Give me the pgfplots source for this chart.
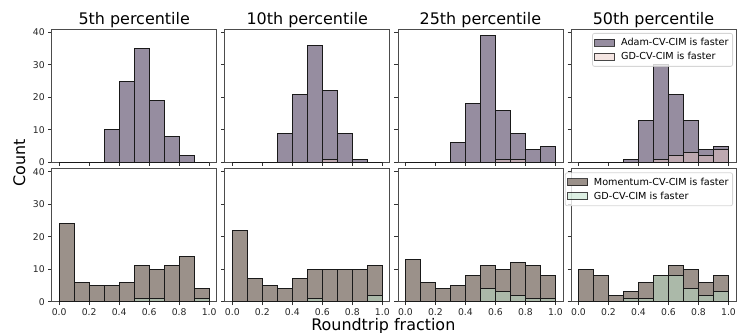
\documentclass[border=0pt]{standalone}
\usepackage{fontspec}
\setmainfont{DejaVu Sans}
\usepackage{pgfplots}
\pgfplotsset{compat=1.18}
\definecolor{adam}{RGB}{150,141,160}
\definecolor{gdpink}{RGB}{234,200,196}
\definecolor{mom}{RGB}{155,145,138}
\definecolor{gdgreen}{RGB}{188,225,201}
\newcommand{\lf}{\fontsize{9.7}{11}\selectfont}
\pgfplotsset{
 panel/.style={scale only axis, width=165bp, height=133bp, anchor=south west,
  xmin=-0.05, xmax=1.05, ymin=0, ymax=40.95,
  xtick={0,0.2,0.4,0.6,0.8,1.0}, ytick={0,10,20,30,40},
  xticklabels={0.0,0.2,0.4,0.6,0.8,1.0},
  tick pos=left, tick align=outside, major tick length=3.5bp,
  tick style={black!80, line width=0.8bp},
  axis line style={black!70, line width=0.8bp},
  ticklabel style={font=\fontsize{9.3}{11}\selectfont, text=black!85},
  /pgf/number format/assume math mode=true,
 },
 notx/.style={xticklabels={}},
 noty/.style={yticklabels={}},
 hbar/.style={ybar, bar width=0.1, bar shift=0pt, draw=black!90, line width=1bp,
   legend image code/.code={\draw[##1, sharp corners] (0bp,-3.5bp) rectangle (20bp,3.5bp);}},
 leg/.style={legend cell align=left, legend style={at={(1,1)}, anchor=north east, xshift=-3bp, yshift=-3.7bp,
   draw=black!20, line width=0.8bp, fill=white, fill opacity=0.8, draw opacity=0.8, text opacity=1,
   rounded corners=2bp, font=\lf, inner xsep=2bp, inner ysep=3bp,
   row sep=1.3bp, nodes={inner sep=2bp, font=\lf},
   /tikz/every odd column/.append style={column sep=3.6bp}}},
}
\begin{document}
\begin{tikzpicture}
% ---------- top row ----------
\begin{axis}[panel, notx, at={(51.7bp,170.7bp)}]
\addplot[hbar, fill=adam, fill opacity=1] coordinates {(0.05,0) (0.15,0) (0.25,0) (0.35,10) (0.45,25) (0.55,35) (0.65,19) (0.75,8) (0.85,2) (0.95,0)};
\addplot[hbar, fill=gdpink, fill opacity=0.47] coordinates {(0.05,0) (0.15,0) (0.25,0) (0.35,0) (0.45,0) (0.55,0) (0.65,0) (0.75,0) (0.85,0) (0.95,0)};
\end{axis}
\begin{axis}[panel, notx, noty, at={(224.8bp,170.7bp)}]
\addplot[hbar, fill=adam, fill opacity=1] coordinates {(0.05,0) (0.15,0) (0.25,0) (0.35,9) (0.45,21) (0.55,36) (0.65,22) (0.75,9) (0.85,1) (0.95,0)};
\addplot[hbar, fill=gdpink, fill opacity=0.47] coordinates {(0.05,0) (0.15,0) (0.25,0) (0.35,0) (0.45,0) (0.55,0) (0.65,1) (0.75,0) (0.85,0) (0.95,0)};
\end{axis}
\begin{axis}[panel, notx, noty, at={(397.9bp,170.7bp)}]
\addplot[hbar, fill=adam, fill opacity=1] coordinates {(0.05,0) (0.15,0) (0.25,0) (0.35,6) (0.45,18) (0.55,39) (0.65,16) (0.75,9) (0.85,4) (0.95,5)};
\addplot[hbar, fill=gdpink, fill opacity=0.47] coordinates {(0.05,0) (0.15,0) (0.25,0) (0.35,0) (0.45,0) (0.55,0) (0.65,1) (0.75,1) (0.85,0) (0.95,0)};
\end{axis}
\begin{axis}[panel, notx, noty, leg, at={(571.0bp,170.7bp)}]
\addplot[hbar, fill=adam, fill opacity=1] coordinates {(0.05,0) (0.15,0) (0.25,0) (0.35,1) (0.45,13) (0.55,30) (0.65,21) (0.75,13) (0.85,4) (0.95,5)};
\addlegendentry{\lf Adam-CV-CIM is faster}
\addplot[hbar, fill=gdpink, fill opacity=0.47] coordinates {(0.05,0) (0.15,0) (0.25,0) (0.35,0) (0.45,0) (0.55,1) (0.65,2) (0.75,3) (0.85,2) (0.95,4)};
\addlegendentry{\lf GD-CV-CIM is faster}
\end{axis}
% ---------- bottom row ----------
\begin{axis}[panel, at={(51.7bp,31.3bp)}]
\addplot[hbar, fill=mom, fill opacity=1] coordinates {(0.05,24) (0.15,6) (0.25,5) (0.35,5) (0.45,6) (0.55,11) (0.65,10) (0.75,11) (0.85,14) (0.95,4)};
\addplot[hbar, fill=gdgreen, fill opacity=0.5] coordinates {(0.05,0) (0.15,0) (0.25,0) (0.35,0) (0.45,0) (0.55,1) (0.65,1) (0.75,0) (0.85,0) (0.95,1)};
\end{axis}
\begin{axis}[panel, noty, at={(224.8bp,31.3bp)}]
\addplot[hbar, fill=mom, fill opacity=1] coordinates {(0.05,22) (0.15,7) (0.25,5) (0.35,4) (0.45,7) (0.55,10) (0.65,10) (0.75,10) (0.85,10) (0.95,11)};
\addplot[hbar, fill=gdgreen, fill opacity=0.5] coordinates {(0.05,0) (0.15,0) (0.25,0) (0.35,0) (0.45,0) (0.55,1) (0.65,0) (0.75,0) (0.85,0) (0.95,2)};
\end{axis}
\begin{axis}[panel, noty, at={(397.9bp,31.3bp)}]
\addplot[hbar, fill=mom, fill opacity=1] coordinates {(0.05,13) (0.15,6) (0.25,4) (0.35,5) (0.45,8) (0.55,11) (0.65,10) (0.75,12) (0.85,11) (0.95,8)};
\addplot[hbar, fill=gdgreen, fill opacity=0.5] coordinates {(0.05,0) (0.15,0) (0.25,0) (0.35,0) (0.45,0) (0.55,4) (0.65,3) (0.75,2) (0.85,1) (0.95,1)};
\end{axis}
\begin{axis}[panel, noty, leg, at={(571.0bp,31.3bp)}]
\addplot[hbar, fill=mom, fill opacity=1] coordinates {(0.05,10) (0.15,8) (0.25,2) (0.35,3) (0.45,6) (0.55,8) (0.65,11) (0.75,10) (0.85,6) (0.95,8)};
\addlegendentry{\lf Momentum-CV-CIM is faster}
\addplot[hbar, fill=gdgreen, fill opacity=0.5] coordinates {(0.05,0) (0.15,0) (0.25,0) (0.35,1) (0.45,1) (0.55,8) (0.65,8) (0.75,4) (0.85,2) (0.95,3)};
\addlegendentry{\lf GD-CV-CIM is faster}
\end{axis}
% ---------- labels ----------
\node[anchor=base, font=\fontsize{16}{19}\selectfont] at (134.2bp,308bp) {5th percentile};
\node[anchor=base, font=\fontsize{16}{19}\selectfont] at (307.3bp,308bp) {10th percentile};
\node[anchor=base, font=\fontsize{16}{19}\selectfont] at (480.4bp,308bp) {25th percentile};
\node[anchor=base, font=\fontsize{16}{19}\selectfont] at (653.5bp,308bp) {50th percentile};
\node[anchor=base, font=\fontsize{16}{19}\selectfont] at (383.3bp,3bp) {Roundtrip fraction};
\node[anchor=base, rotate=90, font=\fontsize{16}{19}\selectfont] at (25bp,170bp) {Count};
\pgfresetboundingbox
\path[use as bounding box] (0bp,0bp) rectangle (737bp,333bp);
\end{tikzpicture}
\end{document}
